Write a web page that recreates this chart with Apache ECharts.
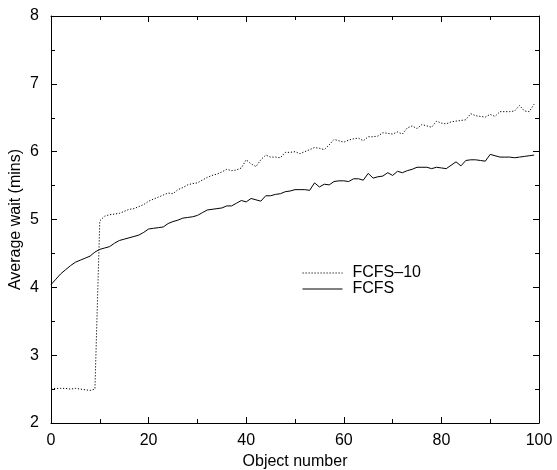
<!DOCTYPE html>
<html>
<head>
<meta charset="utf-8">
<script src="https://cdn.jsdelivr.net/npm/echarts@6/dist/echarts.min.js"></script>
<style>html,body{margin:0;padding:0;background:#fff;}#c{width:557px;height:470px;}</style>
</head>
<body>
<div id="c"></div>
<script>
var objectNumbers = [];
for (var i = 0; i < 100; i++) objectNumbers.push(i);

var fcfs10 = [2.51,2.51,2.51,2.51,2.50,2.51,2.50,2.49,2.48,2.50,
  4.98,5.05,5.07,5.08,5.09,5.12,5.15,5.16,5.19,5.22,
  5.27,5.30,5.33,5.36,5.39,5.38,5.44,5.47,5.51,5.53,
  5.54,5.58,5.62,5.65,5.67,5.70,5.74,5.72,5.73,5.76,
  5.88,5.82,5.78,5.88,5.95,5.92,5.92,5.91,5.99,5.99,
  6.00,5.97,6.00,6.03,6.06,6.05,6.03,6.10,6.18,6.16,
  6.14,6.17,6.19,6.20,6.16,6.22,6.22,6.23,6.28,6.27,
  6.26,6.29,6.26,6.35,6.38,6.34,6.40,6.38,6.36,6.45,
  6.42,6.41,6.44,6.45,6.46,6.47,6.56,6.53,6.52,6.51,
  6.55,6.52,6.59,6.59,6.59,6.60,6.68,6.60,6.59,6.70];

var fcfs = [4.04,4.12,4.20,4.26,4.32,4.37,4.40,4.43,4.46,4.52,
  4.56,4.58,4.60,4.65,4.69,4.71,4.73,4.75,4.77,4.81,
  4.86,4.87,4.88,4.89,4.94,4.97,4.99,5.02,5.03,5.04,
  5.06,5.10,5.14,5.15,5.16,5.17,5.20,5.20,5.24,5.28,
  5.26,5.31,5.29,5.27,5.35,5.35,5.37,5.38,5.41,5.42,
  5.44,5.44,5.44,5.43,5.54,5.48,5.52,5.51,5.56,5.57,
  5.57,5.56,5.60,5.60,5.58,5.68,5.61,5.63,5.64,5.69,
  5.65,5.71,5.69,5.72,5.74,5.77,5.77,5.77,5.75,5.77,
  5.76,5.75,5.80,5.85,5.79,5.87,5.88,5.88,5.87,5.86,
  5.96,5.94,5.92,5.92,5.92,5.91,5.92,5.93,5.94,5.95];

var seriesNames = ['FCFS\u201310', 'FCFS'];
var xTitle = 'Object number';
var yTitle = 'Average wait (mins)';

function pairs(xs, ys) { return xs.map(function (x, k) { return [x, ys[k]]; }); }

var FONT = '"Liberation Sans", Arial, Helvetica, sans-serif';
var axisLineStyle = { color: '#000', width: 1 };

function mkAxis(extra) {
  var base = {
    type: 'value',
    axisLine: { show: true, onZero: false, lineStyle: axisLineStyle },
    axisTick: { show: true, inside: true, length: 6, lineStyle: { color: '#000', width: 1 } },
    minorTick: { show: true, splitNumber: 2, length: 4, lineStyle: { color: '#000', width: 1 } },
    splitLine: { show: false },
    axisLabel: { show: false }
  };
  for (var k in extra) base[k] = extra[k];
  return base;
}

var chart = echarts.init(document.getElementById('c'), null, { renderer: 'canvas' });
chart.setOption({
  animation: false,
  backgroundColor: '#fff',
  textStyle: { fontFamily: FONT },
  grid: { left: 51, right: 18, top: 16, bottom: 47, containLabel: false, outerBoundsMode: 'none' },
  xAxis: [
    mkAxis({ min: 0, max: 100, interval: 20, position: 'bottom',
      name: xTitle, nameLocation: 'middle', nameGap: 31, nameMoveOverlap: false,
      nameTextStyle: { fontFamily: FONT, fontSize: 16, color: '#000' },
      axisLabel: { show: true, margin: 10, fontFamily: FONT, fontSize: 16, color: '#000' } }),
    mkAxis({ min: 0, max: 100, interval: 20, position: 'top' })
  ],
  yAxis: [
    mkAxis({ min: 2, max: 8, interval: 1, position: 'left',
      name: yTitle, nameLocation: 'middle', nameGap: 27, nameRotate: 90, nameMoveOverlap: false,
      nameTextStyle: { fontFamily: FONT, fontSize: 16, color: '#000' },
      axisLabel: { show: true, margin: 12, fontFamily: FONT, fontSize: 16, color: '#000' } }),
    mkAxis({ min: 2, max: 8, interval: 1, position: 'right' })
  ],
  legend: {
    orient: 'vertical',
    left: 302, top: 265,
    padding: 0,
    itemGap: 0,
    itemWidth: 40,
    itemHeight: 10,
    itemStyle: { opacity: 0 },
    lineStyle: { width: 1 },
    textStyle: { fontFamily: FONT, fontSize: 16, color: '#000', lineHeight: 16, padding: [0, 0, 0, 5] },
    data: seriesNames
  },
  series: [
    { name: seriesNames[0], type: 'line', xAxisIndex: 0, yAxisIndex: 0,
      data: pairs(objectNumbers, fcfs10), symbol: 'none', smooth: false,
      lineStyle: { color: '#000', width: 1, type: [1.2, 1.8] }, itemStyle: { color: '#000' } },
    { name: seriesNames[1], type: 'line', xAxisIndex: 0, yAxisIndex: 0,
      data: pairs(objectNumbers, fcfs), symbol: 'none', smooth: false,
      lineStyle: { color: '#000', width: 1, type: 'solid' }, itemStyle: { color: '#000' } }
  ]
});
</script>
</body>
</html>
